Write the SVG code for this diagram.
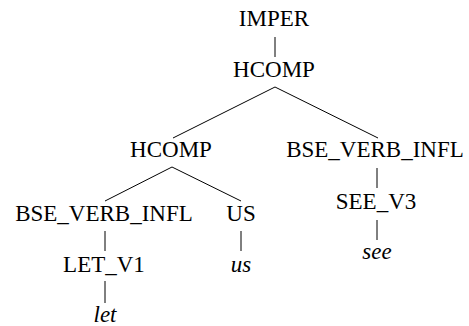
<svg xmlns="http://www.w3.org/2000/svg" width="469" height="326" viewBox="0 0 469 326">
<rect width="469" height="326" fill="#fff"/>
<g id="edges" stroke="#000" stroke-width="1">
<line x1="275" y1="37" x2="275" y2="57"/>
<line x1="275" y1="87" x2="173" y2="138"/>
<line x1="275" y1="87" x2="378" y2="138"/>
<line x1="377" y1="168" x2="377" y2="188"/>
<line x1="377" y1="220" x2="377" y2="240"/>
<line x1="172" y1="167" x2="105" y2="201"/>
<line x1="172" y1="167" x2="241" y2="201"/>
<line x1="105" y1="231" x2="105" y2="251"/>
<line x1="241" y1="231" x2="241" y2="251"/>
<line x1="105" y1="281" x2="105" y2="303"/>
</g>
<g id="n_imper"><text font-family="Liberation Serif" font-size="23" text-anchor="middle" x="274" y="26">IMPER</text></g>
<g id="n_hcomp1"><text font-family="Liberation Serif" font-size="23" text-anchor="middle" x="274" y="77">HCOMP</text></g>
<g id="n_hcomp2"><text font-family="Liberation Serif" font-size="23" text-anchor="middle" x="171" y="157">HCOMP</text></g>
<g id="n_bse2"><text font-family="Liberation Serif" font-size="23" text-anchor="middle" x="375" y="157">BSE_VERB_INFL</text></g>
<g id="n_bse1"><text font-family="Liberation Serif" font-size="23" text-anchor="middle" x="104" y="221">BSE_VERB_INFL</text></g>
<g id="n_us"><text font-family="Liberation Serif" font-size="23" text-anchor="middle" x="241" y="221">US</text></g>
<g id="n_see_v3"><text font-family="Liberation Serif" font-size="23" text-anchor="middle" x="376" y="209">SEE_V3</text></g>
<g id="n_see"><text font-family="Liberation Serif" font-size="23" font-style="italic" text-anchor="middle" x="377" y="259">see</text></g>
<g id="n_let_v1"><text font-family="Liberation Serif" font-size="23" text-anchor="middle" x="104" y="272">LET_V1</text></g>
<g id="n_us_w"><text font-family="Liberation Serif" font-size="23" font-style="italic" text-anchor="middle" x="241" y="272">us</text></g>
<g id="n_let"><text font-family="Liberation Serif" font-size="23" font-style="italic" text-anchor="middle" x="105" y="322">let</text></g>
</svg>
